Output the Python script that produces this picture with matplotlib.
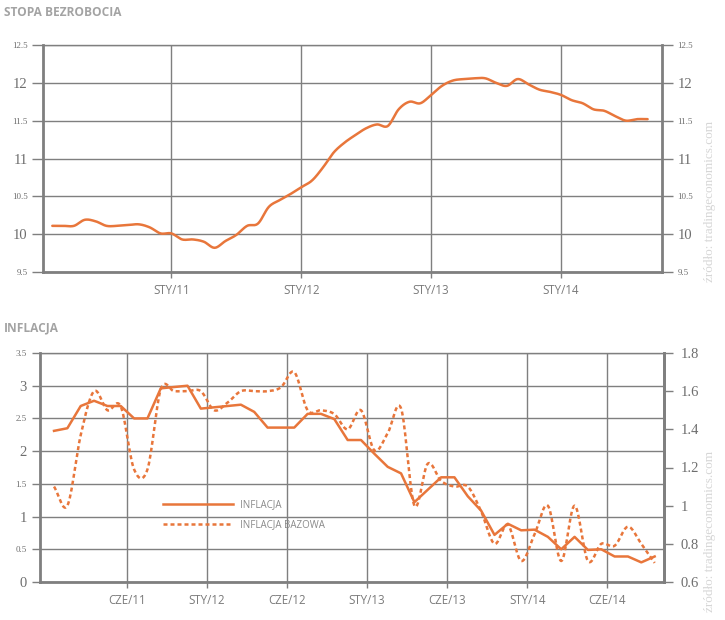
import numpy as np
import matplotlib.pyplot as plt

# stopa bezrobocia, miesiecznie od lut 2010 do wrz 2014
unemployment = [10.11, 10.11, 10.11, 10.19, 10.17, 10.11, 10.11, 10.12, 10.13, 10.09,
                10.01, 10.01, 9.93, 9.93, 9.90, 9.82, 9.91, 9.99, 10.11, 10.14,
                10.36, 10.45, 10.53, 10.62, 10.71, 10.88, 11.08, 11.21, 11.31, 11.40,
                11.45, 11.43, 11.65, 11.75, 11.73, 11.84, 11.96, 12.03, 12.05, 12.06,
                12.06, 12.00, 11.96, 12.05, 11.98, 11.91, 11.88, 11.84, 11.77, 11.73,
                11.65, 11.63, 11.56, 11.50, 11.52, 11.52]
unemp_start = -11  # miesiace wzgledem sty 2011
unemp_ticks = [0, 12, 24, 36]
unemp_labels = ['STY/11', 'STY/12', 'STY/13', 'STY/14']

# inflacja i inflacja bazowa, miesiecznie od sty 2011
inflation = [2.31, 2.35, 2.69, 2.77, 2.69, 2.69, 2.50, 2.50, 2.96, 2.98,
             3.00, 2.65, 2.67, 2.69, 2.71, 2.60, 2.36, 2.36, 2.36, 2.57,
             2.57, 2.49, 2.17, 2.17, 1.96, 1.76, 1.66, 1.22, 1.41, 1.60,
             1.60, 1.31, 1.09, 0.72, 0.89, 0.79, 0.80, 0.69, 0.50, 0.69,
             0.49, 0.50, 0.39, 0.39, 0.30, 0.39]
core_inflation = [1.10, 1.00, 1.37, 1.60, 1.50, 1.52, 1.19, 1.19, 1.61, 1.60,
                  1.60, 1.60, 1.50, 1.54, 1.60, 1.60, 1.60, 1.62, 1.70, 1.50,
                  1.50, 1.48, 1.40, 1.50, 1.29, 1.38, 1.51, 1.00, 1.22, 1.13,
                  1.10, 1.10, 0.97, 0.80, 0.90, 0.71, 0.85, 1.00, 0.71, 1.00,
                  0.71, 0.80, 0.79, 0.89, 0.80, 0.70]
infl_ticks = [5.45, 11.45, 17.45, 23.45, 29.45, 35.45, 41.45]
infl_labels = ['CZE/11', 'STY/12', 'CZE/12', 'STY/13', 'CZE/13', 'STY/14', 'CZE/14']

ORANGE = '#e8763b'
GRID = '#7f7f7f'
NUM_COLOR = '#6e6e6e'
SERIF = 'Liberation Serif'
SANS = 'Open Sans'


def smooth(x, y, per=16):
    # splajn Catmulla-Roma przez punkty
    x = np.asarray(x, float)
    y = np.asarray(y, float)
    n = len(x)
    m = np.zeros(n)
    m[1:-1] = (y[2:] - y[:-2]) / 2
    m[0] = y[1] - y[0]
    m[-1] = y[-1] - y[-2]
    xs, ys = [], []
    for i in range(n - 1):
        t = np.linspace(0, 1, per, endpoint=False)
        h00 = 2 * t ** 3 - 3 * t ** 2 + 1
        h10 = t ** 3 - 2 * t ** 2 + t
        h01 = -2 * t ** 3 + 3 * t ** 2
        h11 = t ** 3 - t ** 2
        xs.extend(x[i] + t * (x[i + 1] - x[i]))
        ys.extend(h00 * y[i] + h10 * m[i] + h01 * y[i + 1] + h11 * m[i + 1])
    xs.append(x[-1])
    ys.append(y[-1])
    return np.array(xs), np.array(ys)


def frame(ax):
    for side in ['left', 'right', 'bottom']:
        ax.spines[side].set_color(GRID)
        ax.spines[side].set_linewidth(2)
    ax.spines['top'].set_color(GRID)
    ax.spines['top'].set_linewidth(1)
    ax.grid(True, color=GRID, lw=1)
    ax.set_axisbelow(True)


def size_labels(ax, vals, big=10.5, small=6.5):
    for tick, v in zip(ax.yaxis.get_major_ticks(), vals):
        fs = big if float(v).is_integer() else small
        tick.label1.set_fontsize(fs)
        tick.label2.set_fontsize(fs)


fig = plt.figure(figsize=(7.25, 6.2), dpi=100)

# --- STOPA BEZROBOCIA ---
ax1 = fig.add_axes([43 / 725, 1 - 272 / 620, 619 / 725, 227 / 620])
frame(ax1)
ux = np.arange(len(unemployment)) + unemp_start
xs, ys = smooth(ux, unemployment)
ax1.plot(xs, ys, color=ORANGE, lw=1.8, solid_capstyle='round')
ax1.set_xlim(-11.86, 45.33)
ax1.set_ylim(9.5, 12.5)
uy = [9.5, 10, 10.5, 11, 11.5, 12, 12.5]
ax1.set_yticks(uy, ['%g' % v for v in uy], family=SERIF, color=NUM_COLOR)
ax1.set_xticks(unemp_ticks, unemp_labels, family=SANS, fontsize=8.3, color='#7a7a7a')
ax1.tick_params(axis='y', left=True, right=True, labelleft=True, labelright=True,
                length=8, width=1, color=GRID, pad=3)
ax1.tick_params(axis='x', length=4.3, width=1, color=GRID, pad=4.5)
size_labels(ax1, uy)

fig.text(4 / 725, 1 - 13 / 620, 'STOPA BEZROBOCIA', family=SANS, weight='bold',
         fontsize=8.6, color='#a3a3a3', va='center', ha='left')
fig.text(710 / 725, 1 - 282 / 620, 'źródło: tradingeconomics.com', rotation=90,
         family=SERIF, fontsize=9.5, color='#d6d6d6', ha='center', va='bottom')

# --- INFLACJA ---
ax2 = fig.add_axes([40 / 725, 1 - 582 / 620, 624 / 725, 229 / 620])
frame(ax2)
ix = np.arange(len(inflation))
l1, = ax2.plot(ix, inflation, color=ORANGE, lw=1.8, label='INFLACJA')
ax2.set_xlim(-1.05, 45.7)
ax2.set_ylim(0, 3.5)
iy = [0, 0.5, 1, 1.5, 2, 2.5, 3, 3.5]
ax2.set_yticks(iy, ['%g' % v for v in iy], family=SERIF, color=NUM_COLOR)
ax2.set_xticks(infl_ticks, infl_labels, family=SANS, fontsize=8.3, color='#7a7a7a')
ax2.tick_params(axis='y', length=6, width=1, color=GRID, pad=3.6)
ax2.tick_params(axis='x', length=4.3, width=1, color=GRID, pad=4.5)
size_labels(ax2, iy)

ax3 = ax2.twinx()
for side in ['left', 'top', 'bottom']:
    ax3.spines[side].set_visible(False)
ax3.spines['right'].set_color(GRID)
ax3.spines['right'].set_linewidth(2)
xs, ys = smooth(ix, core_inflation)
l2, = ax3.plot(xs, ys, color=ORANGE, lw=1.8, ls=(0, (1.6, 1.2)), label='INFLACJA BAZOWA')
ax3.set_ylim(0.6, 1.8)
cy = [0.6, 0.8, 1.0, 1.2, 1.4, 1.6, 1.8]
ax3.set_yticks(cy, ['%g' % v for v in cy], family=SERIF, color=NUM_COLOR, fontsize=10.5)
ax3.tick_params(axis='y', length=6.5, width=1, color=GRID, pad=5.5)

ax3.legend(handles=[l1, l2], loc='upper left', bbox_to_anchor=(163 / 725, 1 - 499 / 620),
           bbox_transform=fig.transFigure, frameon=False, borderpad=0, borderaxespad=0,
           handlelength=7.2, handletextpad=0.7, labelspacing=0.95,
           prop={'family': SANS, 'size': 7}, labelcolor='#8a8a8a')

fig.text(4 / 725, 1 - 328 / 620, 'INFLACJA', family=SANS, weight='bold',
         fontsize=8.6, color='#a3a3a3', va='center', ha='left')
fig.text(710 / 725, 1 - 612 / 620, 'źródło: tradingeconomics.com', rotation=90,
         family=SERIF, fontsize=9.5, color='#d6d6d6', ha='center', va='bottom')

fig.savefig('out.png', dpi=100)
